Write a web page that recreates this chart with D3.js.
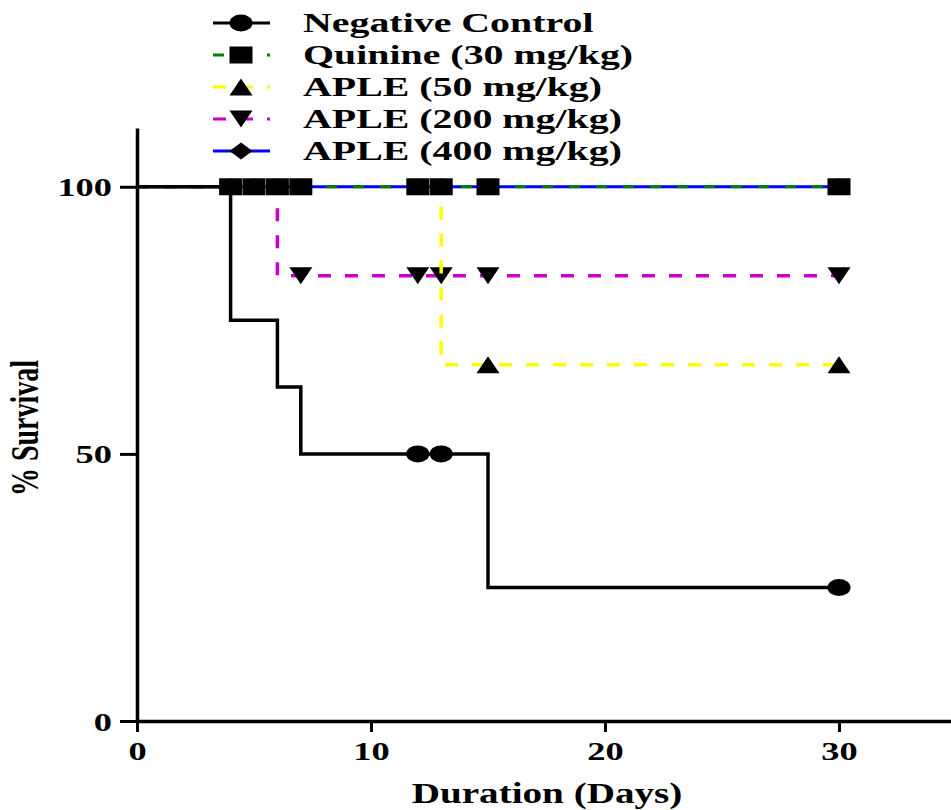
<!DOCTYPE html>
<html>
<head>
<meta charset="utf-8">
<script src="https://cdn.jsdelivr.net/npm/d3@7"></script>
<style>
  body { margin: 0; background: #fff; }
  text { font-family: "Liberation Serif", "Times New Roman", serif; font-weight: bold; fill: #000; }
</style>
</head>
<body>
<div id="chart"></div>
<script>
// survival steps [day, % survival] and censored marks
const negControlSteps = [[0, 100], [4, 75], [6, 62.5], [7, 50], [15, 25], [30, 25]];
const negControlCensored = [[12, 50], [13, 50], [30, 25]];
const quinineSteps = [[0, 100], [30, 100]];
const quinineCensored = [[4, 100], [5, 100], [6, 100], [7, 100], [12, 100], [13, 100], [15, 100], [30, 100]];
const aple50Steps = [[0, 100], [13, 66.67], [30, 66.67]];
const aple50Censored = [[15, 66.67], [30, 66.67]];
const aple200Steps = [[0, 100], [6, 83.33], [30, 83.33]];
const aple200Censored = [[7, 83.33], [12, 83.33], [13, 83.33], [15, 83.33], [30, 83.33]];
const aple400Steps = [[0, 100], [30, 100]];
const aple400Censored = [[4, 100], [5, 100], [6, 100], [7, 100], [12, 100], [13, 100], [15, 100], [30, 100]];

const seriesNames = ["Negative Control", "Quinine (30 mg/kg)", "APLE (50 mg/kg)", "APLE (200 mg/kg)", "APLE (400 mg/kg)"];
const xTicks = [0, 10, 20, 30];
const yTicks = [0, 50, 100];

const width = 951, height = 810;
const stretch = 1.4; // the original picture is widened horizontally

const svg = d3.select("#chart").append("svg")
    .attr("width", width)
    .attr("height", height);
svg.append("rect").attr("width", width).attr("height", height).attr("fill", "#fff");

const x = d3.scaleLinear().domain([0, 35]).range([137, 956]);
const y = d3.scaleLinear().domain([0, 111]).range([721, 128]);

const line = d3.line()
    .x(d => x(d[0]))
    .y(d => y(d[1]))
    .curve(d3.curveStepAfter);

// marker half sizes (wider than tall, like the source)
const mA = 11.5, mB = 8.5;
function drawMarker(g, shape, cx, cy) {
    if (shape === "circle") {
        return g.append("ellipse").attr("cx", cx).attr("cy", cy).attr("rx", mA).attr("ry", mB).attr("fill", "#000");
    }
    let d;
    if (shape === "square") d = `M${-mA},${-mB}H${mA}V${mB}H${-mA}Z`;
    if (shape === "triUp") d = `M0,${-mB}L${mA},${mB}L${-mA},${mB}Z`;
    if (shape === "triDown") d = `M0,${mB}L${mA},${-mB}L${-mA},${-mB}Z`;
    if (shape === "diamond") d = `M0,${-mB}L${mA},0L0,${mB}L${-mA},0Z`;
    return g.append("path").attr("d", d).attr("transform", `translate(${cx},${cy})`).attr("fill", "#000");
}

// drawing order: bottom to top
const series = [
    { name: seriesNames[3], steps: aple200Steps, cens: aple200Censored, color: "#cc00cc", dash: "13,14", shape: "triDown", width: 3.5 },
    { name: seriesNames[2], steps: aple50Steps, cens: aple50Censored, color: "#ffff00", dash: "13,14", shape: "triUp", width: 3.5 },
    { name: seriesNames[4], steps: aple400Steps, cens: aple400Censored, color: "#0000ff", dash: null, shape: "diamond", width: 3 },
    { name: seriesNames[1], steps: quinineSteps, cens: quinineCensored, color: "#008000", dash: "11,16", shape: "square", width: 3 },
    { name: seriesNames[0], steps: negControlSteps, cens: negControlCensored, color: "#000000", dash: null, shape: "circle", width: 3.5 }
];

// axes
const yAxis = svg.append("g")
    .attr("transform", `translate(${x(0)},0)`)
    .call(d3.axisLeft(y).tickValues(yTicks).tickSize(17).tickSizeOuter(0).tickFormat(d3.format("d")));
const xAxis = svg.append("g")
    .attr("transform", `translate(0,${y(0)})`)
    .call(d3.axisBottom(x).tickValues(xTicks).tickSize(11).tickSizeOuter(0).tickFormat(d3.format("d")));

[xAxis, yAxis].forEach(ax => {
    ax.select(".domain").attr("stroke", "#000").attr("stroke-width", 3.5);
    ax.selectAll(".tick line").attr("stroke", "#000").attr("stroke-width", 3);
    ax.selectAll(".tick text").attr("font-size", 26).attr("fill", "#000")
        .style("font-family", "'Liberation Serif', serif").style("font-weight", "bold");
});
yAxis.selectAll(".tick text")
    .attr("x", 0).attr("dy", null)
    .attr("transform", `translate(-25,9) scale(${stretch},1)`);
xAxis.selectAll(".tick text")
    .attr("y", 0).attr("dy", null)
    .attr("transform", `translate(0,39) scale(${stretch},1)`);

// survival curves
series.forEach(s => {
    const g = svg.append("g");
    g.append("path")
        .datum(s.steps)
        .attr("fill", "none")
        .attr("stroke", s.color)
        .attr("stroke-width", s.width)
        .attr("stroke-dasharray", s.dash)
        .attr("d", line);
    s.cens.forEach(c => drawMarker(g, s.shape, x(c[0]), y(c[1])));
});

// axis titles
svg.append("text")
    .attr("transform", `translate(547,803) scale(1.35,1)`)
    .attr("text-anchor", "middle")
    .attr("font-size", 29)
    .text("Duration (Days)");
svg.append("text")
    .attr("transform", `translate(38,428) scale(${stretch},1) rotate(-90)`)
    .attr("text-anchor", "middle")
    .attr("font-size", 28)
    .text("% Survival");

// legend
const legendOrder = [4, 3, 1, 0, 2]; // indexes into series, in legend row order
const legend = svg.append("g");
legendOrder.forEach((si, i) => {
    const s = series[si];
    const cy = 23 + i * 32;
    legend.append("line")
        .attr("x1", 213).attr("x2", 270)
        .attr("y1", cy).attr("y2", cy)
        .attr("stroke", s.color)
        .attr("stroke-width", 3)
        .attr("stroke-dasharray", s.dash);
    drawMarker(legend, s.shape, 241, cy);
    legend.append("text")
        .attr("transform", `translate(303,${cy + 9}) scale(1.45,1)`)
        .attr("font-size", 27.5)
        .text(s.name);
});
</script>
</body>
</html>
